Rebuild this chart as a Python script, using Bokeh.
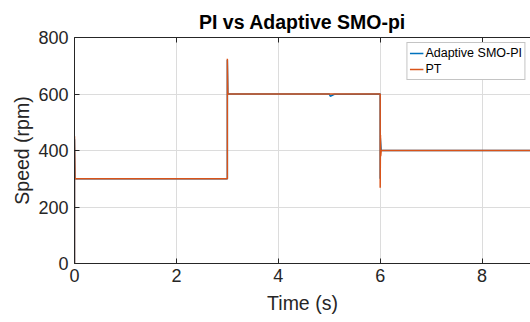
from bokeh.plotting import figure
from bokeh.models import LinearAxis, FixedTicker, Legend, LegendItem, Range1d
from bokeh.embed import file_html
from bokeh.resources import INLINE

# Data
t_smo = [0.0, 0.0, 0.01, 3.0, 3.0, 3.01, 5.0, 5.02, 5.1, 6.0, 6.0, 6.0, 6.02, 9.0]
speed_smo = [0, 440, 300, 300, 720, 600, 600, 592, 599, 600, 300, 450, 400, 400]
t_pt = [0.0, 0.0, 0.01, 3.0, 3.0, 3.01, 6.0, 6.0, 6.005, 6.01, 6.02, 9.0]
speed_pt = [0, 450, 300, 300, 725, 600, 600, 268, 455, 380, 400, 400]
x_ticks = [0, 2, 4, 6, 8]
y_ticks = [0, 200, 400, 600, 800]

FONT = "Liberation Sans"
BLUE = "#0072BD"
ORANGE = "#D95319"
AX = "#262626"

p = figure(width=530, height=322, output_backend="svg", toolbar_location=None,
           x_range=Range1d(0, 8.95), y_range=Range1d(0, 800),
           min_border_left=74, min_border_right=0, min_border_top=37, min_border_bottom=59,
           title="PI vs Adaptive SMO-pi")
p.title.text_font = FONT
p.title.text_font_size = "19.5px"
p.title.text_font_style = "bold"
p.title.align = "center"
p.title.text_color = "black"
p.outline_line_color = None

for ax in (p.xaxis[0], p.yaxis[0]):
    ax.major_tick_in = 5
    ax.major_tick_out = 0
    ax.minor_tick_in = 0
    ax.minor_tick_out = 0
    ax.axis_line_color = AX
    ax.major_tick_line_color = AX
    ax.major_label_text_font = FONT
    ax.major_label_text_font_size = "18px"
    ax.major_label_text_color = AX
    ax.axis_label_text_font = FONT
    ax.axis_label_text_font_size = "19.5px"
    ax.axis_label_text_font_style = "normal"
    ax.axis_label_text_color = AX

p.xaxis.ticker = FixedTicker(ticks=x_ticks)
p.yaxis.ticker = FixedTicker(ticks=y_ticks)
p.xaxis.axis_label = "Time (s)"
p.yaxis.axis_label = "Speed (rpm)"
p.xaxis.major_label_standoff = 5
p.yaxis.major_label_standoff = 6
p.xaxis.axis_label_standoff = 7
p.yaxis.axis_label_standoff = 2

top = LinearAxis(ticker=FixedTicker(ticks=x_ticks),
                 major_label_overrides={t: "" for t in x_ticks},
                 major_tick_in=5, major_tick_out=0, minor_tick_in=0, minor_tick_out=0,
                 axis_line_color=AX, major_tick_line_color=AX, major_label_standoff=0)
p.add_layout(top, "above")

p.xgrid.grid_line_color = "#dcdcdc"
p.ygrid.grid_line_color = "#dcdcdc"

r1 = p.line(t_smo, speed_smo, line_color=BLUE, line_width=1.5)
r2 = p.line(t_pt, speed_pt, line_color=ORANGE, line_width=1.5)

legend = Legend(items=[LegendItem(label="Adaptive SMO-PI", renderers=[r1]),
                       LegendItem(label="PT", renderers=[r2])],
                location="top_right")
legend.label_text_font = FONT
legend.label_text_font_size = "12.5px"
legend.label_text_color = "black"
legend.border_line_color = "#8a8a8a"
legend.background_fill_alpha = 1
legend.glyph_width = 14
legend.glyph_height = 16
legend.label_height = 16
legend.spacing = 0
legend.padding = 2
legend.margin = 5
legend.label_standoff = 2
p.add_layout(legend)

open("out.html", "w").write(file_html(p, INLINE))
